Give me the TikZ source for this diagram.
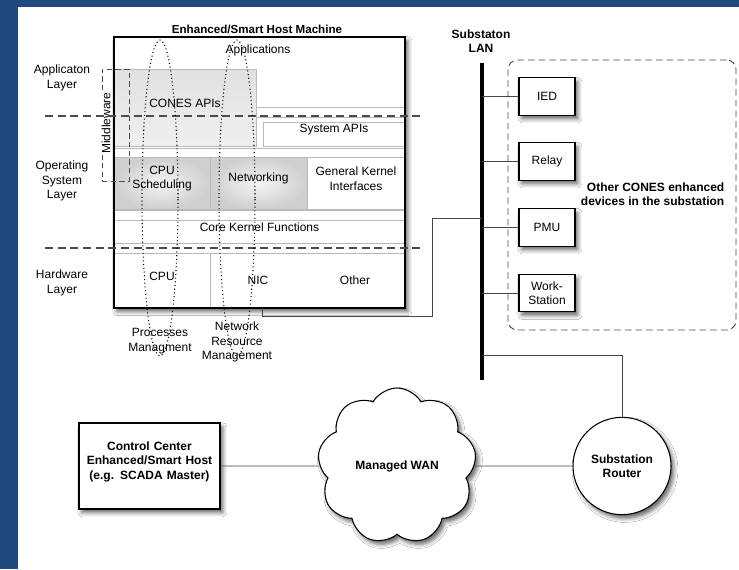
\documentclass[tikz,border=0pt]{standalone}
\usepackage{fontspec}
\setmainfont{Liberation Sans}
\usetikzlibrary{fit,shapes.geometric,shapes.symbols,shadows,shadows.blur}

\definecolor{frameblue}{RGB}{31,73,125}
\definecolor{dashgray}{RGB}{75,75,75}
\definecolor{bandgray}{RGB}{185,185,185}
\definecolor{wiregray}{RGB}{70,70,70}

\begin{document}
\begin{tikzpicture}[x=0.75pt,y=-0.75pt,
  every node/.style={font=\fontsize{9}{10.8}\selectfont},
  boldtext/.style={font=\fontsize{9}{10.8}\selectfont\bfseries, align=center},
  cell/.style={inner sep=0pt, outer sep=0pt, align=center, draw=bandgray, line width=0.6pt},
  band/.style={cell, fill=white},
  softgray/.style={cell, shading=radial, inner color=gray!8, outer color=gray!38},
  layerline/.style={dashgray, line width=0.8pt, dash pattern=on 6pt off 3.5pt},
  traceloop/.style={draw, ellipse, dotted, line width=0.8pt, inner sep=0pt},
  shadowed/.style={blur shadow={shadow xshift=2.2pt, shadow yshift=-2.8pt, shadow blur radius=3pt, shadow opacity=60}},
  device/.style={draw, fill=white, line width=0.8pt, shadowed, minimum width=42pt, minimum height=28pt, align=center, inner sep=1pt},
  wire/.style={wiregray, line width=0.7pt}
]
% page background and frame
\fill[frameblue] (0,0) rectangle (739,569);
\fill[white] (18,7) rectangle (739,569);

% ---------------- host machine ----------------
\node[boldtext, font=\fontsize{8.7}{10}\selectfont\bfseries] (hosttitle) at (257,29) {Enhanced/Smart Host Machine};
\node[fit={(114,37) (405,308)}, inner sep=0pt, outer sep=0pt, fill=white, shadowed] (host) {};
\node (apps) at (258,50) {Applications};

\node[cell, fit={(114,69) (256,146)}, top color=gray!24, bottom color=gray!12] (cones) {CONES APIs};
\node[band, fit={(256,107) (405,117)}] (bandA) {};
\node[cell, fit={(263,122) (405,146)}, fill=white] (sysapi) {System APIs};
\node[band, fit={(114,148) (405,157)}] (bandB) {};
\node[softgray, fit={(114,157) (210,209)}] (cpusched) {CPU\\Scheduling};
\node[softgray, fit={(210,157) (307,209)}] (netw) {Networking};
\node[cell, fit={(307,157) (405,209)}, fill=white] (gki) {General Kernel\\Interfaces};
\node[band, fit={(114,210) (405,220)}] (bandC) {};
\node[cell, fit={(114,220) (405,243)}, fill=white] (core) {Core Kernel Functions};
\node[band, fit={(114,243) (405,253)}] (bandD) {};
\node[cell, fit={(114,253) (210,308)}, fill=white] (hwcpu) {CPU};
\node[cell, fit={(210,253) (405,308)}, fill=white] (hwrest) {};
\node (nic) at (258,280) {NIC};
\node (other) at (355,280) {Other};
\draw[line width=1.5pt] (host.south west) rectangle (host.north east);

% middleware bracket
\node[fit={(102,69) (129,181)}, inner sep=0pt, draw=dashgray, line width=0.7pt, dash pattern=on 4pt off 2.5pt] (mwbox) {};
\node[rotate=90, fill=white, inner sep=1pt] (mwlabel) at (106,123) {Middleware};

% layer separators
\coordinate (sepAl) at (45,116);
\coordinate (sepAr) at (420,116);
\coordinate (sepBl) at (45,248);
\coordinate (sepBr) at (420,248);
\draw[layerline] (sepAl) -- (sepAr);
\draw[layerline] (sepBl) -- (sepBr);

\node[align=center] (applayer) at (62,78) {Applicaton\\Layer};
\node[align=center] (oslayer) at (62,181) {Operating\\System\\Layer};
\node[align=center] (hwlayer) at (62,283) {Hardware\\Layer};

% management loops
\node[traceloop, minimum width=27pt, minimum height=237pt] (procloop) at (160,198) {};
\node[traceloop, minimum width=27pt, minimum height=237pt] (netloop) at (237,198) {};
\node[align=center] (proclbl) at (160,341) {Processes\\Managment};
\node[align=center] (netlbl) at (237,342) {Network\\Resource\\Management};

% ---------------- substation LAN ----------------
\node[boldtext] (lanlbl) at (481,41) {Substaton\\LAN};
\coordinate (lantop) at (482,63);
\coordinate (lanbot) at (482,380);
\draw[line width=3pt] (lantop) -- (lanbot);

\node[fit={(508,60) (736,330)}, inner sep=0pt, draw=dashgray, line width=0.7pt, dash pattern=on 5pt off 3pt, rounded corners=7pt] (group) {};
\node[boldtext, anchor=east, align=right] (grouplbl) at (729,194) {Other CONES enhanced\\devices in the substation};

\node[device] (ied) at (547,96.5) {IED};
\node[device] (relay) at (547,161.5) {Relay};
\node[device] (pmu) at (547,227.5) {PMU};
\node[device] (ws) at (547,293) {Work-\\Station};

\foreach \d in {ied,relay,pmu,ws}
  \draw[wire] (lantop |- \d.west) -- (\d.west);

% host NIC to the LAN
\coordinate (nicport) at (262,308);
\coordinate (hosttap) at (482,218);
\draw[wire] (nicport) -- ++(0,8) -| (432,218) -- (hosttap);

% ---------------- wide area ----------------
\node[draw, fill=white, line width=0.8pt, shadowed, fit={(79,423) (220,509)}, inner sep=0pt, boldtext] (cc) {Control Center\\Enhanced/Smart Host\\(e.g. SCADA Master)};
\node[cloud, draw, fill=white, line width=0.8pt, shadowed, cloud puffs=9, cloud puff arc=120, cloud ignores aspect, minimum width=119pt, minimum height=117pt, boldtext] (wan) at (397,466) {Managed WAN};
\node[ellipse, draw, fill=white, line width=0.8pt, shadowed, minimum width=73.5pt, minimum height=73pt, boldtext, inner sep=0pt] (router) at (622,466) {Substation\\Router};

\coordinate (routertap) at (482,355);
\draw[wire] (cc.east) -- (wan.west);
\draw[wire] (wan.east) -- (router.west);
\draw[wire] (routertap) -| (router.north);
\end{tikzpicture}
\end{document}
